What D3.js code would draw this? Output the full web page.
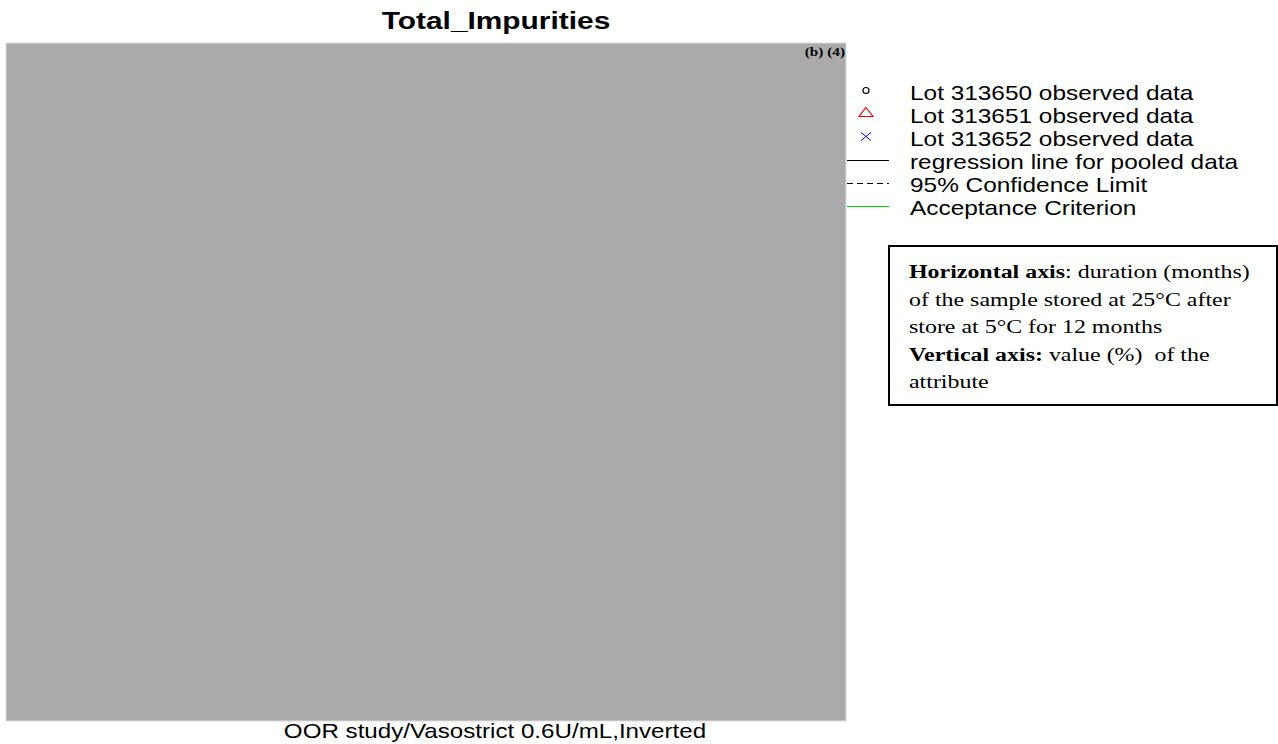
<!DOCTYPE html>
<html>
<head>
<meta charset="utf-8">
<script src="https://cdn.jsdelivr.net/npm/d3@7/dist/d3.min.js"></script>
<style>
  html, body { margin: 0; padding: 0; background: #ffffff; }
  svg { display: block; }
  text { white-space: pre; }
</style>
</head>
<body>
<svg id="chart" width="1278" height="744"></svg>
<script>
// Chart texts
const chartTitle = "Total_Impurities";
const footnote = "OOR study/Vasostrict 0.6U/mL,Inverted";
const redactionMark = "(b) (4)";

// Legend entries
const legendLabels = [
  "Lot 313650 observed data",
  "Lot 313651 observed data",
  "Lot 313652 observed data",
  "regression line for pooled data",
  "95% Confidence Limit",
  "Acceptance Criterion"
];
const legendKinds = ["circle", "triangle", "cross", "solid", "dashed", "green"];

// Axis description box lines: [bold part, regular part]
const noteLines = [
  ["Horizontal axis", ": duration (months)"],
  ["", "of the sample stored at 25°C after"],
  ["", "store at 5°C for 12 months"],
  ["Vertical axis:", " value (%)  of the"],
  ["", "attribute"]
];

// Plot domain (panel content is withheld, shown as a blank grey panel)
const xDomain = [0, 1];
const yDomain = [0, 1];

const svg = d3.select("#chart");
const sans = "Liberation Sans, Arial, sans-serif";
const serif = "Liberation Serif, Times New Roman, serif";
const stretch = 1.22; // the page's type is set horizontally widened

// Text anchored at (px, py) and widened horizontally
function wideText(parent, px, py) {
  return parent.append("g")
    .attr("transform", `translate(${px},${py}) scale(${stretch},1)`)
    .append("text")
    .attr("x", 0).attr("y", 0)
    .attr("fill", "#000");
}

const x = d3.scaleLinear().domain(xDomain).range([6, 846]);
const y = d3.scaleLinear().domain(yDomain).range([721, 43]);

// Grey plot panel
svg.append("rect")
  .attr("x", x(xDomain[0]))
  .attr("y", y(yDomain[1]))
  .attr("width", x(xDomain[1]) - x(xDomain[0]))
  .attr("height", y(yDomain[0]) - y(yDomain[1]))
  .attr("fill", "#aaaaaa")
  .attr("stroke", "#dcdcdc")
  .attr("stroke-width", 1);

// Title
wideText(svg, 496, 29)
  .attr("text-anchor", "middle")
  .attr("font-family", sans)
  .attr("font-weight", "bold")
  .attr("font-size", 24.5)
  .text(chartTitle);

// Redaction mark
wideText(svg, 845, 56)
  .attr("text-anchor", "end")
  .attr("font-family", serif)
  .attr("font-weight", "bold")
  .attr("font-size", 12.5)
  .text(redactionMark);

// Footnote
wideText(svg, 495, 738)
  .attr("text-anchor", "middle")
  .attr("font-family", sans)
  .attr("font-size", 19.8)
  .text(footnote);

// Legend
const legendRow = d3.scaleBand().domain(d3.range(legendLabels.length)).range([81, 219]);
const lg = svg.append("g");
legendLabels.forEach((label, i) => {
  const cy = legendRow(i) + legendRow.bandwidth() / 2;
  const kind = legendKinds[i];
  if (kind === "circle") {
    lg.append("circle").attr("cx", 866).attr("cy", cy - 2).attr("r", 3)
      .attr("fill", "none").attr("stroke", "#000").attr("stroke-width", 1.2);
  } else if (kind === "triangle") {
    lg.append("path")
      .attr("d", `M${866},${cy - 8} L${873},${cy + 1} L${859},${cy + 1} Z`)
      .attr("fill", "none").attr("stroke", "#ff0000").attr("stroke-width", 1.2);
  } else if (kind === "cross") {
    lg.append("path")
      .attr("d", `M${861},${cy - 6} L${871},${cy + 2} M${871},${cy - 6} L${861},${cy + 2}`)
      .attr("stroke", "#0000ff").attr("stroke-width", 1);
  } else {
    lg.append("line")
      .attr("x1", 847).attr("x2", 889).attr("y1", cy - 1).attr("y2", cy - 1)
      .attr("stroke", kind === "green" ? "#00dd00" : "#000")
      .attr("stroke-width", 1)
      .attr("stroke-dasharray", kind === "dashed" ? "6,4" : null);
  }
  wideText(lg, 910, cy + 7)
    .attr("font-family", sans)
    .attr("font-size", 20)
    .text(label);
});

// Axis description box
svg.append("rect")
  .attr("x", 889).attr("y", 246)
  .attr("width", 388).attr("height", 159)
  .attr("fill", "#fff").attr("stroke", "#000").attr("stroke-width", 2);

noteLines.forEach((ln, i) => {
  const line = wideText(svg, 909, 278 + i * 27.5)
    .attr("font-family", serif)
    .attr("font-size", 19.6);
  if (ln[0]) line.append("tspan").attr("font-weight", "bold").text(ln[0]);
  line.append("tspan").text(ln[1]);
});
</script>
</body>
</html>
